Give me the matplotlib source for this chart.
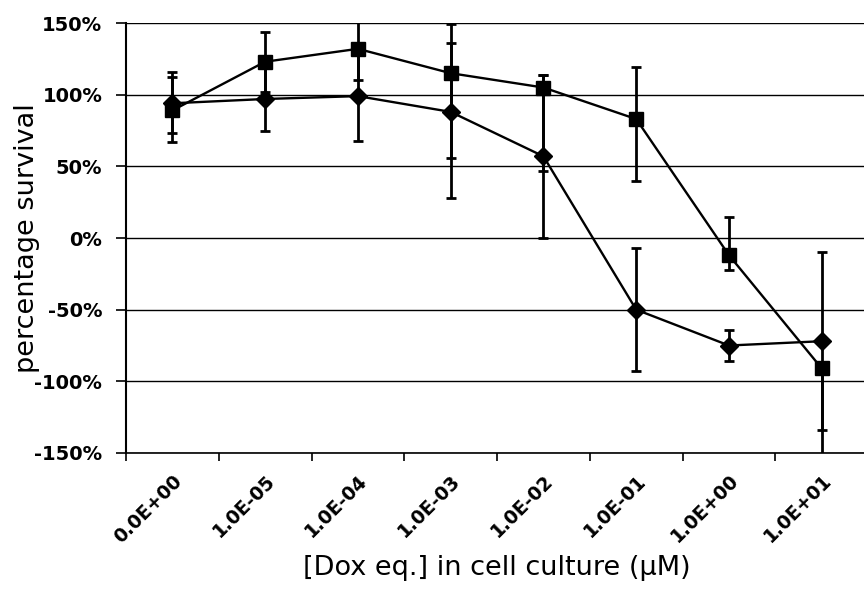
import numpy as np
import matplotlib.pyplot as plt
from matplotlib.ticker import FuncFormatter

# concentration categories (µM)
conc_labels = ['0.0E+00', '1.0E-05', '1.0E-04', '1.0E-03',
               '1.0E-02', '1.0E-01', '1.0E+00', '1.0E+01']

# survival in %, with lower / upper error
diamond_vals = [94, 97, 99, 88, 57, -50, -75, -72]
diamond_err_lo = [21, 22, 31, 60, 57, 43, 11, 62]
diamond_err_hi = [22, 22, 31, 61, 57, 43, 11, 62]

square_vals = [89, 123, 132, 115, 105, 83, -12, -91]
square_err_lo = [22, 21, 22, 59, 58, 43, 10, 61]
square_err_hi = [23, 21, 22, 21, 9, 36, 27, 0]

x = np.arange(len(conc_labels))

fig = plt.figure(figsize=(8.64, 5.92), dpi=100)
ax = fig.add_axes([0.1458, 0.2348, 0.859, 0.7263])

ax.set_ylim(-150, 150)
ax.set_xlim(-0.5, 7.5)
ax.set_yticks(np.arange(-150, 151, 50))
ax.yaxis.set_major_formatter(FuncFormatter(lambda v, p: f'{v:.0f}%'))
ax.grid(axis='y', color='black', linewidth=1.0)
ax.set_axisbelow(True)

ax.errorbar(x, square_vals, yerr=[square_err_lo, square_err_hi],
            color='black', marker='s', markersize=10, linewidth=1.7,
            elinewidth=2.0, capsize=3.5, capthick=2.0, zorder=3)
ax.errorbar(x, diamond_vals, yerr=[diamond_err_lo, diamond_err_hi],
            color='black', marker='D', markersize=9, linewidth=1.7,
            elinewidth=2.0, capsize=3.5, capthick=2.0, zorder=4)

# labels at category centres, tick marks between categories
ax.set_xticks(x)
ax.set_xticklabels(conc_labels, rotation=45, ha='right',
                   rotation_mode='anchor', fontsize=13.5, fontweight='heavy')
ax.tick_params(axis='x', which='major', length=0, pad=13)
ax.set_xticks(np.arange(-0.5, 8.0, 1.0), minor=True)
ax.tick_params(axis='x', which='minor', length=6, width=1.2, direction='out')
ax.tick_params(axis='y', length=7, width=1.2, labelsize=14, pad=10)
for lab in ax.get_yticklabels():
    lab.set_fontweight('heavy')

for side in ['top', 'right']:
    ax.spines[side].set_visible(False)
ax.spines['left'].set_linewidth(1.5)
ax.spines['bottom'].set_linewidth(1.2)

ax.set_ylabel('percentage survival', fontsize=19.5)
ax.yaxis.set_label_coords(-0.116, 0.5)
ax.set_xlabel('[Dox eq.] in cell culture (µM)', fontsize=19.5)
ax.xaxis.set_label_coords(0.5, -0.237)

fig.savefig('out.png', dpi=100)
